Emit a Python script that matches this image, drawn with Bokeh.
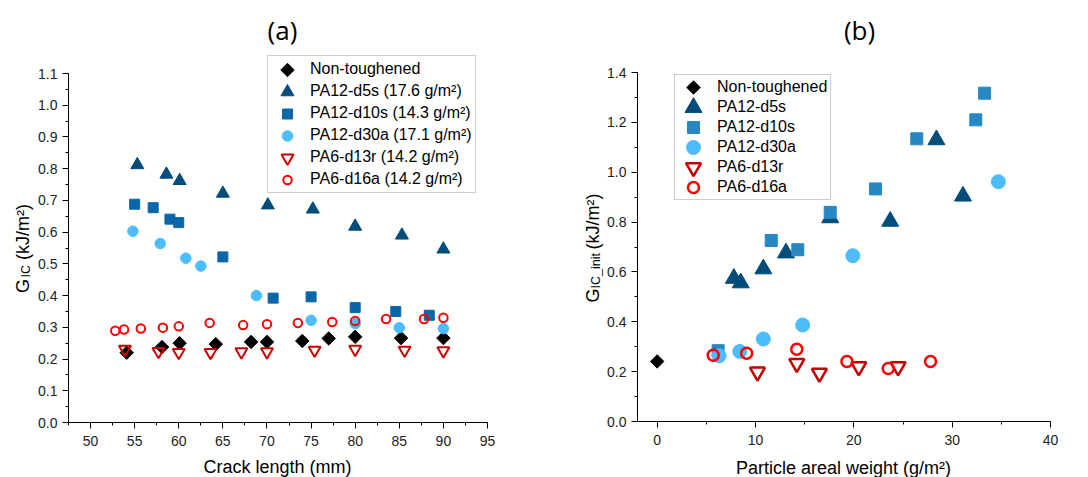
import numpy as np
from bokeh.plotting import figure
from bokeh.models import (Range1d, SingleIntervalTicker, PrintfTickFormatter,
                          Legend, LegendItem, Label)
from bokeh.layouts import row
from bokeh.embed import file_html
from bokeh.resources import INLINE

# ---------------- Panel (a) data: G_IC vs crack length ----------------
nt_a_x = [54.1, 58.1, 60.1, 64.2, 68.2, 70.0, 74.0, 77.0, 80.0, 85.2, 90.0]
nt_a_y = [0.220, 0.238, 0.250, 0.247, 0.254, 0.254, 0.257, 0.265, 0.270, 0.266, 0.266]
d5s_a_x = [55.3, 58.6, 60.1, 65.0, 70.1, 75.2, 80.0, 85.3, 90.0]
d5s_a_y = [0.812, 0.782, 0.762, 0.722, 0.685, 0.672, 0.618, 0.590, 0.546]
d10s_a_x = [55.0, 57.1, 59.0, 60.0, 65.0, 70.7, 75.0, 80.0, 84.6, 88.4]
d10s_a_y = [0.688, 0.677, 0.641, 0.630, 0.522, 0.392, 0.396, 0.362, 0.350, 0.338]
d30a_a_x = [54.8, 57.9, 60.8, 62.5, 68.8, 75.0, 80.0, 85.0, 90.0]
d30a_a_y = [0.603, 0.564, 0.518, 0.493, 0.400, 0.322, 0.312, 0.299, 0.296]
d13r_a_x = [53.9, 57.7, 60.0, 63.6, 67.1, 70.0, 75.4, 80.0, 85.6, 90.0]
d13r_a_y = [0.231, 0.224, 0.221, 0.221, 0.223, 0.223, 0.228, 0.231, 0.228, 0.226]
d16a_a_x = [52.8, 53.8, 55.7, 58.2, 60.0, 63.5, 67.3, 70.0, 73.5, 77.4, 80.0, 83.5, 87.8, 90.0]
d16a_a_y = [0.289, 0.293, 0.296, 0.299, 0.303, 0.314, 0.307, 0.310, 0.314, 0.317, 0.320, 0.326, 0.326, 0.330]

labels_a = ["Non-toughened", "PA12-d5s (17.6 g/m\u00b2)", "PA12-d10s (14.3 g/m\u00b2)",
            "PA12-d30a (17.1 g/m\u00b2)", "PA6-d13r (14.2 g/m\u00b2)", "PA6-d16a (14.2 g/m\u00b2)"]

# ---------------- Panel (b) data: G_IC_init vs particle areal weight ----------------
nt_b_x = [0.0]
nt_b_y = [0.241]
d5s_b_x = [7.8, 8.5, 10.8, 13.1, 17.6, 23.7, 28.4, 31.1]
d5s_b_y = [0.574, 0.556, 0.612, 0.676, 0.817, 0.803, 1.130, 0.904]
d10s_b_x = [6.2, 11.6, 14.3, 17.6, 22.2, 26.4, 32.4, 33.3]
d10s_b_y = [0.284, 0.726, 0.689, 0.839, 0.933, 1.134, 1.210, 1.317]
d30a_b_x = [6.3, 8.4, 10.8, 14.8, 19.9, 34.7]
d30a_b_y = [0.264, 0.281, 0.331, 0.387, 0.665, 0.962]
d13r_b_x = [10.2, 14.2, 16.5, 20.5, 24.5]
d13r_b_y = [0.199, 0.233, 0.194, 0.220, 0.220]
d16a_b_x = [5.7, 9.1, 14.2, 19.3, 23.5, 27.8]
d16a_b_y = [0.266, 0.274, 0.290, 0.241, 0.213, 0.241]

labels_b = ["Non-toughened", "PA12-d5s", "PA12-d10s", "PA12-d30a", "PA6-d13r", "PA6-d16a"]

FONT = "Liberation Sans"
H = 477


def converter(fr):
    def f(px, py):
        x = fr["x0"] + (px - fr["l"]) / (fr["r"] - fr["l"]) * (fr["x1"] - fr["x0"])
        y = fr["y0"] + (fr["b"] - py) / (fr["b"] - fr["t"]) * (fr["y1"] - fr["y0"])
        return x, y
    return f


def make_fig(width, ox, fr, xint, yint):
    conv = converter(fr)
    xa, ya = conv(ox, H)
    xb, yb = conv(ox + width, 0)
    p = figure(width=width, height=H, x_range=Range1d(xa, xb), y_range=Range1d(ya, yb),
               output_backend="svg", toolbar_location=None, title=None, min_border=0)
    p.outline_line_color = None
    p.grid.visible = False
    p.background_fill_color = "white"
    p.border_fill_color = "white"
    p.xaxis.ticker = SingleIntervalTicker(interval=xint, num_minor_ticks=2)
    p.yaxis.ticker = SingleIntervalTicker(interval=yint, num_minor_ticks=2)
    p.yaxis.formatter = PrintfTickFormatter(format="%.1f")
    p.xaxis.fixed_location = fr["y0"]
    p.yaxis.fixed_location = fr["x0"]
    p.xaxis.bounds = (fr["x0"], fr["x1"] + 1e-6)
    p.yaxis.bounds = (fr["y0"], fr["y1"] + 1e-6)
    for ax in (p.xaxis, p.yaxis):
        ax.axis_line_color = "black"
        ax.axis_line_width = 1
        ax.major_tick_line_color = "black"
        ax.minor_tick_line_color = "black"
        ax.major_tick_in = 0
        ax.major_tick_out = 6
        ax.minor_tick_in = 0
        ax.minor_tick_out = 3
        ax.major_label_text_font = FONT
        ax.major_label_text_font_size = "14px"
        ax.major_label_text_color = "#222222"
    p.xaxis.major_label_standoff = 7
    p.yaxis.major_label_standoff = 5
    return p, conv


def add_text(p, conv, px, py, text, size, angle=0.0, align="left", baseline="middle", font=FONT):
    x, y = conv(px, py)
    p.add_layout(Label(x=x, y=y, text=text, text_font=font, text_font_size=f"{size}px",
                       text_color="black", angle=angle, text_align=align,
                       text_baseline=baseline))


def series_styles(sizes, colors):
    lw = sizes[6]
    return [
        dict(marker="square", size=sizes[0], angle=np.pi / 4, fill_color="black", line_color="black"),
        dict(marker="triangle", size=sizes[1], fill_color=colors[1], line_color=colors[1]),
        dict(marker="square", size=sizes[2], fill_color=colors[2], line_color=colors[2]),
        dict(marker="circle", size=sizes[3], fill_color=colors[3], line_color=colors[3]),
        dict(marker="inverted_triangle", size=sizes[4], fill_color=None, line_color=colors[4], line_width=lw),
        dict(marker="circle", size=sizes[5], fill_color=None, line_color=colors[5], line_width=lw),
    ]


def add_series(p, styles, data):
    for (xs, ys), st in zip(data, styles):
        p.scatter(xs, ys, **st)
    # invisible stand-ins for the legend rows; the legend glyphs are drawn beneath at true size
    return [p.scatter([], [], marker="circle", size=1, fill_alpha=0, line_alpha=0) for _ in styles]


def legend_glyphs(p, conv, px, py0, dy, styles):
    for i, st in enumerate(styles):
        x, y = conv(px, py0 + dy * i)
        p.scatter([x], [y], **st)


def make_legend(items, renderers, loc, gw, gh, ls):
    return Legend(items=[LegendItem(label=l, renderers=[r]) for l, r in zip(items, renderers)],
                  location=loc, padding=3, spacing=2, margin=0,
                  glyph_width=gw, glyph_height=gh, label_height=gh, label_standoff=ls,
                  label_text_font=FONT, label_text_font_size="16px", label_text_color="black",
                  border_line_color="#999999", border_line_width=1,
                  background_fill_color="white", background_fill_alpha=0)


# ---------------- Figure (a) ----------------
WA = 544
fa = dict(l=68, r=487, t=73, b=422, x0=47.5, x1=95, y0=0, y1=1.1)
pa, ca = make_fig(WA, 0, fa, 5, 0.1)
st_a = series_styles([9.5, 13, 10, 10.5, 12, 8.5, 2],
                     ["black", "#004C7A", "#0A66A8", "#4CBCFC", "#CC0000", "#FF0000"])
ra = add_series(pa, st_a,
                [(nt_a_x, nt_a_y), (d5s_a_x, d5s_a_y), (d10s_a_x, d10s_a_y),
                 (d30a_a_x, d30a_a_y), (d13r_a_x, d13r_a_y), (d16a_a_x, d16a_a_y)])
pa.add_layout(make_legend(labels_a, ra, (267, H - 193), 34, 20, 5))
legend_glyphs(pa, ca, 287, 69.5, 22, st_a)

add_text(pa, ca, 282, 29, "(a)", 26, align="center", font="Open Sans")
add_text(pa, ca, 277, 466, "Crack length (mm)", 18, align="center")
add_text(pa, ca, 22, 292.5, "G", 18, angle=np.pi / 2)
add_text(pa, ca, 25.6, 277, "IC", 12.5, angle=np.pi / 2)
add_text(pa, ca, 22, 259.5, "(kJ/m\u00b2)", 18, angle=np.pi / 2)

# ---------------- Figure (b) ----------------
WB = 544
fb = dict(l=637, r=1050, t=72, b=421, x0=-2, x1=40, y0=0, y1=1.4)
pb, cb = make_fig(WB, WA, fb, 10, 0.2)
st_b = series_styles([9.5, 17, 12, 14, 15, 11, 2.5],
                     ["black", "#004C7A", "#2787C2", "#4CBCFC", "#C40000", "#FF0000"])
rb = add_series(pb, st_b,
                [(nt_b_x, nt_b_y), (d5s_b_x, d5s_b_y), (d10s_b_x, d10s_b_y),
                 (d30a_b_x, d30a_b_y), (d13r_b_x, d13r_b_y), (d16a_b_x, d16a_b_y)])
pb.add_layout(make_legend(labels_b, rb, (674 - WA, H - 200), 32, 18, 7))
legend_glyphs(pb, cb, 693, 87, 20, st_b)

add_text(pb, cb, 859, 29, "(b)", 26, align="center", font="Open Sans")
add_text(pb, cb, 843, 467, "Particle areal weight (g/m\u00b2)", 18, align="center")
add_text(pb, cb, 592, 302, "G", 18, angle=np.pi / 2)
add_text(pb, cb, 595.5, 288, "IC_init", 12.5, angle=np.pi / 2)
add_text(pb, cb, 592, 249, "(kJ/m\u00b2)", 18, angle=np.pi / 2)

layout = row(pa, pb)
open("out.html", "w").write(file_html(layout, INLINE))
